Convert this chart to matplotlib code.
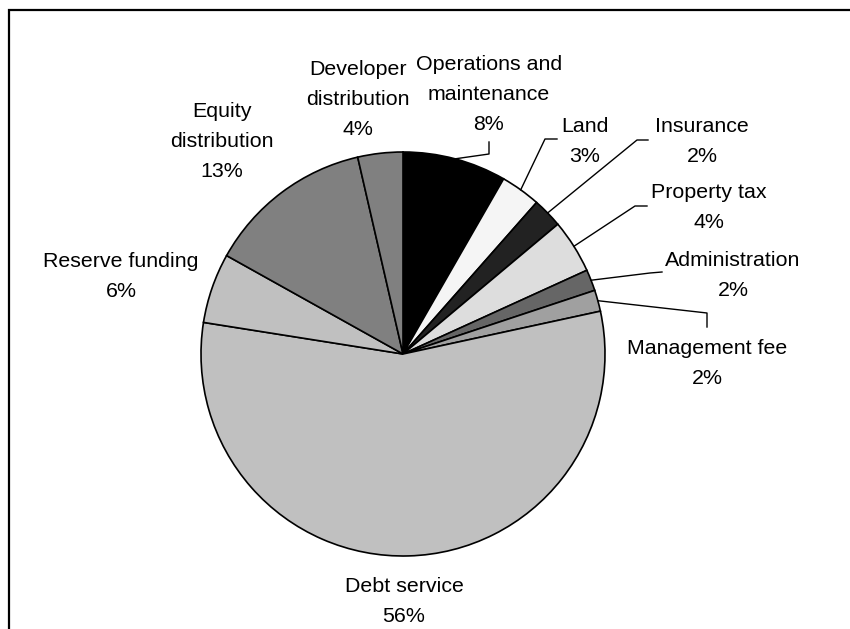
import numpy as np
import matplotlib
matplotlib.use("Agg")
import matplotlib.pyplot as plt
from matplotlib.patches import Rectangle

plt.rcParams['font.family'] = ['Liberation Sans', 'DejaVu Sans']

# data (clockwise from 12 o'clock)
categories = ['Operations and\nmaintenance', 'Land', 'Insurance', 'Property tax',
              'Administration', 'Management fee', 'Debt service', 'Reserve funding',
              'Equity\ndistribution', 'Developer\ndistribution']
values = [8.3, 3.2, 2.4, 4.3, 1.7, 1.7, 55.9, 5.6, 13.3, 3.6]
colors = ['#000000', '#f5f5f5', '#222222', '#dddddd', '#666666',
          '#a0a0a0', '#c0c0c0', '#c0c0c0', '#808080', '#808080']

# layout in pixels: label (center x, baseline of last line), leader start, leader elbow
W, H = 850, 629
cx, cy, R = 403, 354, 202
label_pos = [(489, 130), (585, 162), (702, 162), (709, 228), (733, 296),
             (707, 384), (404, 622), (121, 297), (222, 177), (358, 135)]
leaders = [((489, 142), (489, 154)), ((557, 139), (545, 139)), ((648, 140), (637, 140)),
           ((647, 206), (635, 206)), ((662, 272), (650, 273)), ((707, 327), (707, 313)),
           None, None, None, None]


def px(x, y):
    return (x - cx) / R, (cy - y) / R


fig = plt.figure(figsize=(W / 100, H / 100), dpi=100)
ax = fig.add_axes([0, 0, 1, 1])

wedges, _ = ax.pie(values, colors=colors, startangle=90, counterclock=False,
                   radius=1, center=(0, 0),
                   wedgeprops=dict(edgecolor='black', linewidth=1.2))

total = sum(values)
pct = [v / total * 100 for v in values]
for i, w in enumerate(wedges):
    x, y = px(*label_pos[i])
    ax.text(x, y, f"{categories[i]}\n{pct[i]:.0f}%", ha='center', va='baseline',
            fontsize=15.4, linespacing=1.72, color='black')
    if leaders[i] is not None:
        mid = np.deg2rad((w.theta1 + w.theta2) / 2)
        p0 = px(*leaders[i][0])
        p1 = px(*leaders[i][1])
        ax.plot([p0[0], p1[0], np.cos(mid)], [p0[1], p1[1], np.sin(mid)],
                color='black', linewidth=1.0)

ax.set_xlim(-cx / R, (W - cx) / R)
ax.set_ylim((cy - H) / R, cy / R)
ax.set_aspect('equal')
ax.axis('off')

# chart border (right and bottom edges fall outside the image)
fig.patches.append(Rectangle((9 / W, -0.05), 1.0, 1.05 - 10 / H,
                             transform=fig.transFigure, fill=False,
                             edgecolor='black', linewidth=1.6))

fig.savefig('out.png', dpi=100, facecolor='white')
